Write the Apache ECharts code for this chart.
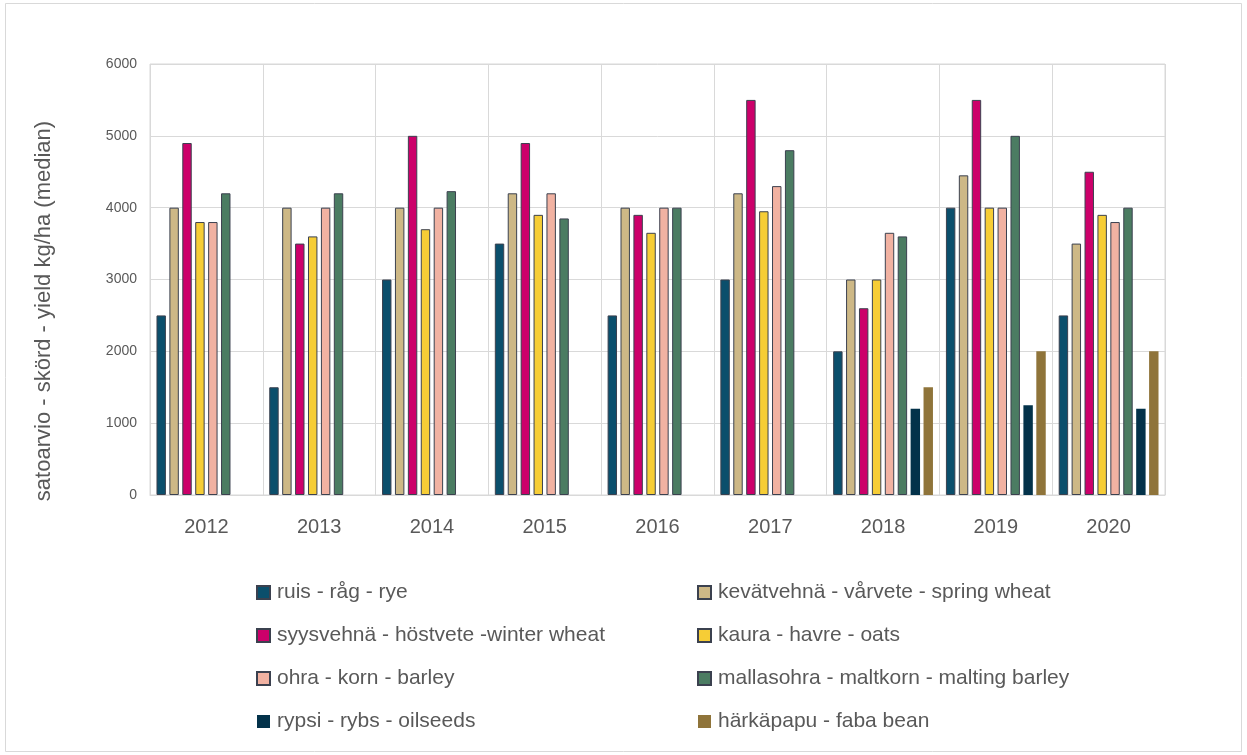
<!DOCTYPE html>
<html>
<head>
<meta charset="utf-8">
<script src="https://cdn.jsdelivr.net/npm/echarts@6/dist/echarts.min.js"></script>
<style>
  html, body { margin: 0; padding: 0; background: #ffffff; }
  #chart { width: 1247px; height: 755px; }
</style>
</head>
<body>
<div id="chart"></div>
<script>
// Years on the category axis
const years = ['2012', '2013', '2014', '2015', '2016', '2017', '2018', '2019', '2020'];
const yTicks = [0, 1000, 2000, 3000, 4000, 5000, 6000];

// Median yield, kg/ha, per crop
const ruis     = [2500, 1500, 3000, 3500, 2500, 3000, 2000, 4000, 2500];
const kevat    = [4000, 4000, 4000, 4200, 4000, 4200, 3000, 4450, 3500];
const syys     = [4900, 3500, 5000, 4900, 3900, 5500, 2600, 5500, 4500];
const kaura    = [3800, 3600, 3700, 3900, 3650, 3950, 3000, 4000, 3900];
const ohra     = [3800, 4000, 4000, 4200, 4000, 4300, 3650, 4000, 3800];
const mallas   = [4200, 4200, 4230, 3850, 4000, 4800, 3600, 5000, 4000];
const rypsi    = [null, null, null, null, null, null, 1200, 1250, 1200];
const harkapapu = [null, null, null, null, null, null, 1500, 2000, 2000];

const names = [
  'ruis - råg - rye',
  'kevätvehnä - vårvete - spring wheat',
  'syysvehnä - höstvete -winter wheat',
  'kaura - havre - oats',
  'ohra - korn - barley',
  'mallasohra - maltkorn - malting barley',
  'rypsi - rybs - oilseeds',
  'härkäpapu - faba bean'
];
const values = [ruis, kevat, syys, kaura, ohra, mallas, rypsi, harkapapu];
const colors = ['#0b4f6c', '#cdb886', '#cc006a', '#f6cd36', '#f1b2a2', '#4b7c62', '#03324a', '#8f743a'];
const outlined = [true, true, true, true, true, true, false, false];

const FONT = '"Liberation Sans", Arial, sans-serif';
const TEXT = '#595959';
const GRID = '#d9d9d9';

const series = names.map((n, i) => ({
  name: n,
  type: 'bar',
  data: values[i],
  barGap: '37%',
  barCategoryGap: '11.5%',
  itemStyle: {
    color: colors[i],
    borderColor: outlined[i] ? '#3b414f' : colors[i],
    borderWidth: outlined[i] ? 1 : 0
  },
  emphasis: { disabled: true }
}));

const legendCommon = {
  orient: 'vertical',
  top: 582,
  padding: 0,
  itemWidth: 13,
  itemHeight: 13,
  itemGap: 22,
  icon: 'rect',
  textStyle: { fontFamily: FONT, fontSize: 21, color: TEXT, padding: [0, 0, 0, 2] },
  selectedMode: false
};

const chart = echarts.init(document.getElementById('chart'), null, { renderer: 'canvas' });
chart.setOption({
  animation: false,
  backgroundColor: '#ffffff',
  color: colors,
  grid: {
    left: 150, right: 82, top: 64, bottom: 260,
    show: true, borderColor: GRID, borderWidth: 1
  },
  xAxis: {
    type: 'category',
    data: years,
    axisLine: { show: true, lineStyle: { color: GRID, width: 1 } },
    axisTick: { show: false },
    splitLine: { show: true, lineStyle: { color: GRID, width: 1 } },
    axisLabel: { fontFamily: FONT, fontSize: 20, color: TEXT, margin: 22 }
  },
  yAxis: {
    type: 'value',
    min: yTicks[0],
    max: yTicks[yTicks.length - 1],
    interval: 1000,
    axisLine: { show: false },
    axisTick: { show: false },
    splitLine: { show: true, lineStyle: { color: GRID, width: 1 } },
    axisLabel: {
      fontFamily: FONT, fontSize: 14, color: TEXT, margin: 13,
      formatter: v => String(v)
    }
  },
  legend: [
    Object.assign({}, legendCommon, { left: 256, data: [names[0], names[2], names[4], names[6]] }),
    Object.assign({}, legendCommon, { left: 697, data: [names[1], names[3], names[5], names[7]] })
  ],
  graphic: [
    {
      type: 'rect',
      shape: { x: 5.5, y: 3.5, width: 1236, height: 748 },
      style: { fill: null, stroke: GRID, lineWidth: 1 },
      silent: true
    },
    {
      type: 'text',
      x: 44, y: 311,
      rotation: Math.PI / 2,
      style: {
        text: 'satoarvio - skörd - yield kg/ha (median)',
        fontFamily: FONT, fontSize: 22, fill: TEXT,
        textAlign: 'center', textVerticalAlign: 'middle'
      },
      silent: true
    }
  ],
  series: series
});
</script>
</body>
</html>
